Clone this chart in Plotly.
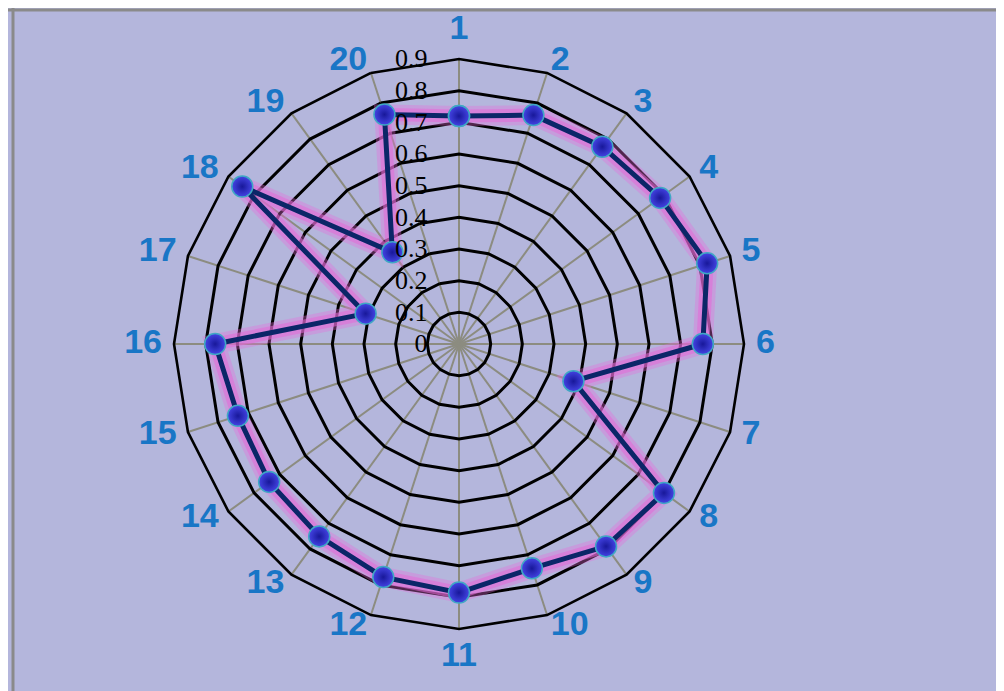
import plotly.graph_objects as go

categories = [str(i) for i in range(1, 21)]
values = [0.72, 0.76, 0.77, 0.785, 0.824, 0.77, 0.38, 0.80, 0.79, 0.745,
          0.785, 0.774, 0.751, 0.741, 0.734, 0.77, 0.31, 0.846, 0.358, 0.762]
radial_ticks = [0, 0.1, 0.2, 0.3, 0.4, 0.5, 0.6, 0.7, 0.8, 0.9]
radial_labels = ["0", "0.1", "0.2", "0.3", "0.4", "0.5", "0.6", "0.7", "0.8", "0.9"]

theta_closed = categories + categories[:1]
r_closed = values + values[:1]

BG = "#B4B6DC"
W, H = 1004, 691
cx, cy, R = 451, 336, 285
RMAX = 0.9
# label layer: a larger, invisible polar sharing the same centre and scale
R2 = 330
RMAX2 = RMAX * R2 / R
LABEL_R = RMAX * 1.042  # category labels just outside the outer ring

n = len(categories)
half = n // 2
label_pos = (["top center"] + ["middle right"] * (half - 1) + ["bottom center"]
             + ["middle left"] * (n - half - 1))


def dom(rad):
    return dict(x=[(cx - rad) / W, (cx + rad) / W],
                y=[(H - cy - rad) / H, (H - cy + rad) / H])


fig = go.Figure()
# pink glow
fig.add_trace(go.Scatterpolar(
    r=r_closed, theta=theta_closed, mode="lines",
    line=dict(color="rgba(232,110,220,0.35)", width=20),
    hoverinfo="skip", showlegend=False))
fig.add_trace(go.Scatterpolar(
    r=r_closed, theta=theta_closed, mode="lines",
    line=dict(color="rgba(228,105,215,0.55)", width=13),
    hoverinfo="skip", showlegend=False))
# main line + markers
fig.add_trace(go.Scatterpolar(
    r=r_closed, theta=theta_closed, mode="lines+markers",
    line=dict(color="#0B2668", width=5),
    marker=dict(size=21, color="#4444E4",
                gradient=dict(type="radial", color="#18189A"),
                line=dict(color="#3FA8C4", width=1.5)),
    showlegend=False))
# category labels
fig.add_trace(go.Scatterpolar(
    r=[LABEL_R] * n, theta=categories, mode="text",
    text=categories, textposition=label_pos, subplot="polar2",
    textfont=dict(family="Liberation Sans", size=34, color="#1976C6",
                  weight="bold"),
    hoverinfo="skip", showlegend=False))

fig.update_layout(
    width=W, height=H,
    margin=dict(l=0, r=0, t=0, b=0),
    paper_bgcolor=BG,
    plot_bgcolor=BG,
    polar2=dict(
        bgcolor="rgba(0,0,0,0)",
        domain=dom(R2),
        radialaxis=dict(range=[0, RMAX2], visible=False),
        angularaxis=dict(categoryarray=categories, categoryorder="array",
                         rotation=90, direction="clockwise", visible=False),
    ),
    polar=dict(
        bgcolor=BG,
        gridshape="linear",
        domain=dom(R),
        radialaxis=dict(
            range=[0, RMAX], tickvals=radial_ticks, ticktext=radial_labels,
            angle=90, tickangle=90, side="counterclockwise",
            showline=False, gridcolor="#000000", gridwidth=2.6,
            ticks="outside", ticklen=22, tickcolor="rgba(0,0,0,0)",
            tickfont=dict(family="Liberation Serif", size=26, color="#000000"),
        ),
        angularaxis=dict(
            categoryarray=categories, categoryorder="array",
            rotation=90, direction="clockwise",
            showline=True, linecolor="#000000", linewidth=2.6,
            gridcolor="#8C8C80", gridwidth=1.5,
            ticks="", showticklabels=False,
        ),
    ),
    shapes=[
        dict(type="line", xref="paper", yref="paper", x0=0, x1=1,
             y0=1 - 2 / H, y1=1 - 2 / H, line=dict(color="#8A8A8A", width=3)),
        dict(type="line", xref="paper", yref="paper", x0=5 / W, x1=5 / W,
             y0=3 / H, y1=1, line=dict(color="#8A8A8A", width=3)),
        dict(type="line", xref="paper", yref="paper", x0=4 / W, x1=1,
             y0=1.5 / H, y1=1.5 / H, line=dict(color="#000000", width=3)),
    ],
)

fig.write_html("out.html")
